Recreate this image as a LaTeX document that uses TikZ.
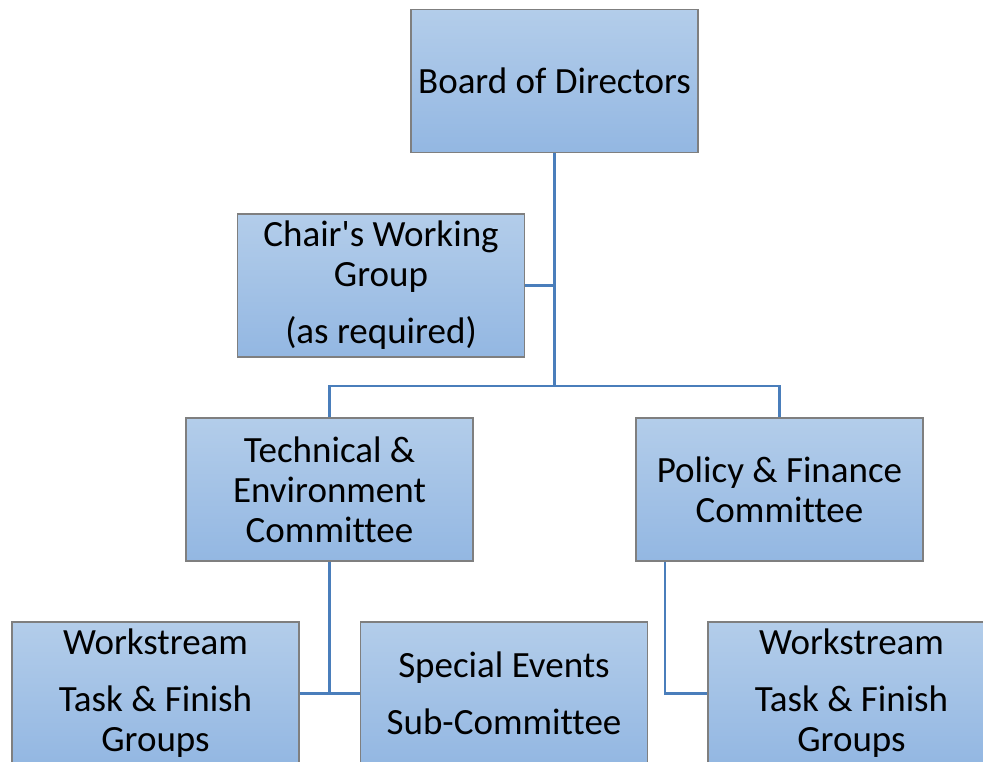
\documentclass[tikz,border=0pt]{standalone}
\usepackage{fontspec}
\setmainfont[Ligatures=NoCommon]{Carlito}
\definecolor{linkblue}{HTML}{4A7EBB}
\definecolor{boxedge}{HTML}{7F7F7F}
\definecolor{boxtop}{HTML}{B3CDEA}
\definecolor{boxbot}{HTML}{93B7E2}
\begin{document}
\begin{tikzpicture}[x=1pt,y=-1pt,
  orgbox/.style={draw=boxedge, line width=1.3pt, top color=boxtop, bottom color=boxbot,
    minimum width=287pt, minimum height=143pt, inner sep=0pt, align=center,
    font=\fontsize{37}{40}\selectfont},
  link/.style={draw=linkblue, line width=2.4pt}]
\useasboundingbox (0,0) rectangle (983,762);
\clip (0,0) rectangle (983,762);
\node[orgbox] (board) at (554.5,81) {Board of Directors};
\node[orgbox] (chair) at (381,285.5) {Chair\textquotesingle s Working\\Group\\[17pt](as required)};
\node[orgbox] (tech) at (329.5,489.5) {Technical \&\\Environment\\Committee};
\node[orgbox] (policy) at (779.5,489.5) {Policy \& Finance\\Committee};
\node[orgbox] (wsl) at (155.5,693.5) {Workstream\\[17pt]Task \& Finish\\Groups};
\node[orgbox] (special) at (504,693.5) {Special Events\\[17pt]Sub-Committee};
\node[orgbox] (wsr) at (851.5,693.5) {Workstream\\[17pt]Task \& Finish\\Groups};
\coordinate (hub) at (554.5,386);
\draw[link] (board.south) -- (hub);
\draw[link] (chair.east) -- (chair.east -| hub);
\draw[link] (tech.north) |- (hub) -| (policy.north);
\draw[link] (tech.south) -- (tech.south |- wsl.east);
\draw[link] (wsl.east) -- (special.west);
\draw[link] ([xshift=-114.5pt]policy.south) |- (wsr.west);
\end{tikzpicture}
\end{document}
